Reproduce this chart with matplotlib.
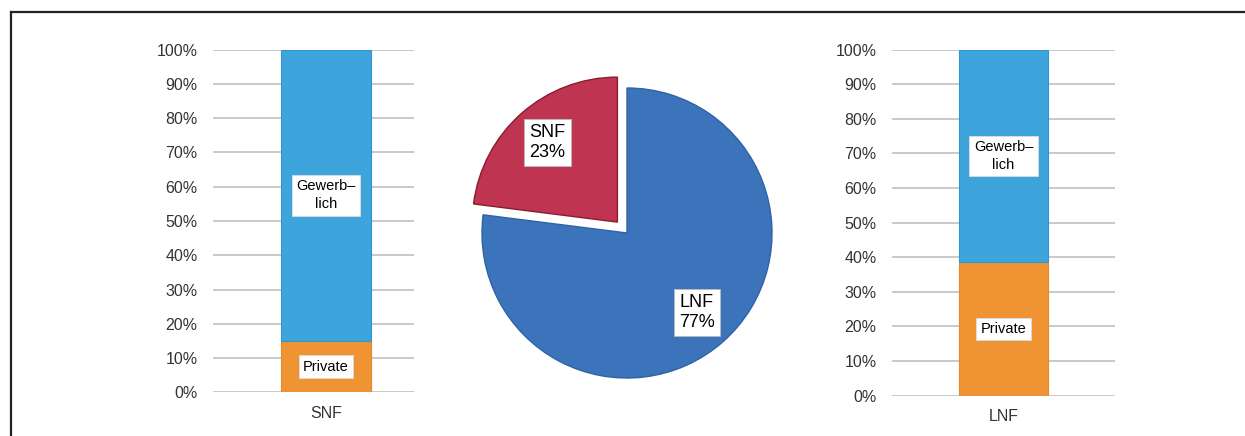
import matplotlib.pyplot as plt
import numpy as np
from matplotlib.lines import Line2D

plt.rcParams['font.family'] = ['Liberation Sans', 'DejaVu Sans']

# share of private vs. commercial owners per vehicle class (percent)
bar_groups = ["SNF", "LNF"]
private_share = [15, 38.5]
gewerb_share = [85, 61.5]
seg_labels = ["Private", "Gewerb–\nlich"]

# fleet split between the two classes
pie_labels = ["LNF", "SNF"]
pie_values = [77, 23]

yticks = np.arange(0, 101, 10)

c_private = "#F09433"
c_gewerb = "#3DA5DC"
c_lnf = "#3B74BA"
c_snf = "#BF3450"

W, H = 1245, 436
fig = plt.figure(figsize=(W / 100, H / 100), dpi=100)

# thin frame on top and left
fig.add_artist(Line2D([11 / W, 1.0], [1 - 12 / H, 1 - 12 / H], color="#222222", lw=1.6))
fig.add_artist(Line2D([11 / W, 11 / W], [0, 1 - 12 / H], color="#222222", lw=1.6))

label_box = dict(boxstyle="square,pad=0.3", fc="white", ec="#DDDDDD", lw=0.6)


def stacked_bar(rect, idx, xl):
    ax = fig.add_axes(rect)
    ax.bar(0, private_share[idx], width=1, color=c_private, edgecolor="#E08A2E", lw=0.8, zorder=3)
    ax.bar(0, gewerb_share[idx], bottom=private_share[idx], width=1, color=c_gewerb,
           edgecolor="#2E95D0", lw=0.8, zorder=3)
    ax.text(0, private_share[idx] / 2, seg_labels[0], ha="center", va="center",
            fontsize=10.5, bbox=label_box, zorder=4)
    ax.text(0, private_share[idx] + gewerb_share[idx] / 2, seg_labels[1], ha="center",
            va="center", fontsize=10.5, linespacing=1.35, bbox=label_box, zorder=4)
    ax.set_xlim(*xl)
    ax.set_ylim(0, 100)
    ax.set_yticks(yticks)
    ax.set_yticklabels([f"{v}%" for v in yticks], fontsize=11.5, color="#333333")
    ax.set_xticks([0])
    ax.set_xticklabels([bar_groups[idx]], fontsize=11.5, color="#333333")
    ax.tick_params(length=0, axis="y", pad=11)
    ax.tick_params(length=0, axis="x", pad=10)
    ax.yaxis.grid(True, color="#BBBBBB", lw=1.1)
    ax.set_axisbelow(True)
    for s in ax.spines.values():
        s.set_visible(False)
    return ax


stacked_bar([213 / W, (H - 392.3) / H, 201 / W, 342.6 / H], 0, (-113 / 90, 88 / 90))
stacked_bar([892 / W, (H - 395.5) / H, 223 / W, 345.8 / H], 1, (-111.5 / 89, 111.5 / 89))

# pie in the middle, SNF slice pulled out
R = 145
cx, cy = 627, 233
side = 2.5 * R
pax = fig.add_axes([(cx - side / 2) / W, (H - cy - side / 2) / H, side / W, side / H])
wedges, _ = pax.pie(pie_values, startangle=90, counterclock=False, explode=[0, 0.1],
                    colors=[c_lnf, c_snf],
                    wedgeprops=dict(lw=1.0))
wedges[0].set_edgecolor("#2F62A6")
wedges[1].set_edgecolor("#8A1C30")
for w, name, val in zip(wedges, pie_labels, pie_values):
    mid = np.deg2rad((w.theta1 + w.theta2) / 2)
    x0, y0 = w.center
    pax.text(x0 + 0.73 * np.cos(mid), y0 + 0.73 * np.sin(mid), f"{name}\n{val}%",
             ha="center", va="center", fontsize=13, linespacing=1.2,
             bbox=dict(boxstyle="square,pad=0.3", fc="white", ec="#BBBBBB", lw=0.6))
pax.set_xlim(-1.25, 1.25)
pax.set_ylim(-1.25, 1.25)
pax.set_aspect("equal")
pax.axis("off")

fig.savefig("out.png", dpi=100)
